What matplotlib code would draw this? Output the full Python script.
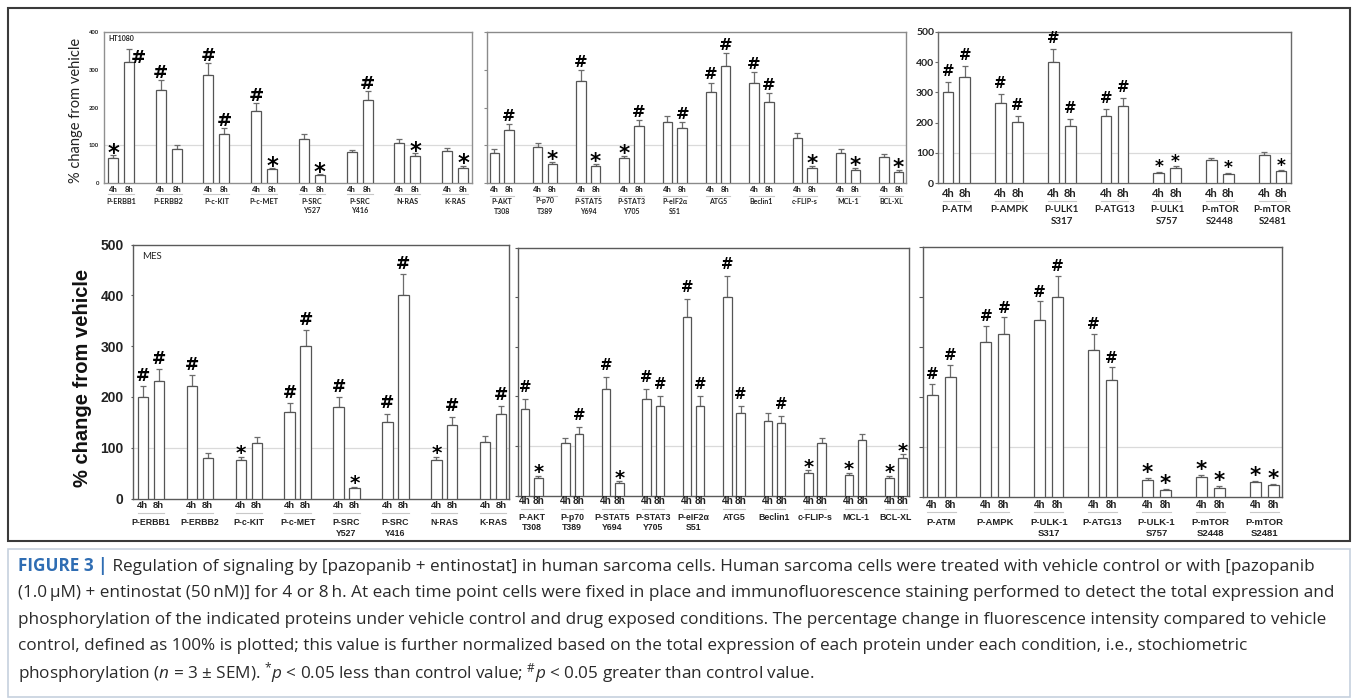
import numpy as np
import matplotlib
matplotlib.use("Agg")
import matplotlib.pyplot as plt
from matplotlib.transforms import blended_transform_factory
from matplotlib.patches import Rectangle
from matplotlib.textpath import TextPath
from matplotlib.font_manager import FontProperties
from matplotlib.text import Annotation

plt.rcParams['mathtext.fontset'] = 'custom'
plt.rcParams['mathtext.rm'] = 'Open Sans'
plt.rcParams['mathtext.it'] = 'Open Sans:italic'
plt.rcParams['mathtext.bf'] = 'Open Sans:bold'

# ------------------------------------------------------------------ data
# HT1080 (top row)
ht_kin_labels = ['P-ERBB1', 'P-ERBB2', 'P-c-KIT', 'P-c-MET', 'P-SRC\nY527', 'P-SRC\nY416', 'N-RAS', 'K-RAS']
ht_kin_4h = [66, 246, 286, 191, 116, 81, 105, 86]
ht_kin_4h_err = [8, 26, 31, 20, 13, 7, 12, 8]
ht_kin_8h = [321, 89, 131, 36, 20, 221, 71, 41]
ht_kin_8h_err = [34, 11, 15, 3, 3, 23, 8, 5]
ht_kin_4h_sig = ['*', '#', '#', '#', '', '', '', '']
ht_kin_8h_sig = ['#', '', '#', '*', '*', '#', '*', '*']

ht_sig_labels = ['P-AKT\nT308', 'P-p70\nT389', 'P-STAT5\nY694', 'P-STAT3\nY705', 'P-eIF2α\nS51',
                 'ATG5', 'Beclin1', 'c-FLIP-s', 'MCL-1', 'BCL-XL']
ht_sig_4h = [80, 95, 270, 65, 161, 240, 265, 120, 79, 70]
ht_sig_4h_err = [9, 11, 29, 7, 16, 26, 29, 12, 10, 8]
ht_sig_8h = [140, 50, 46, 150, 146, 310, 215, 40, 35, 30]
ht_sig_8h_err = [15, 6, 4, 16, 15, 34, 23, 5, 4, 4]
ht_sig_4h_sig = ['', '', '#', '*', '', '#', '#', '', '', '']
ht_sig_8h_sig = ['#', '*', '*', '#', '#', '#', '#', '*', '*', '*']

ht_aut_labels = ['P-ATM', 'P-AMPK', 'P-ULK1\nS317', 'P-ATG13', 'P-ULK1\nS757', 'P-mTOR\nS2448', 'P-mTOR\nS2481']
ht_aut_4h = [300, 266, 401, 221, 34, 76, 94]
ht_aut_4h_err = [33, 28, 41, 23, 3, 6, 9]
ht_aut_8h = [350, 201, 189, 255, 49, 31, 40]
ht_aut_8h_err = [37, 20, 22, 27, 7, 3, 3]
ht_aut_4h_sig = ['#', '#', '#', '#', '*', '', '']
ht_aut_8h_sig = ['#', '#', '#', '#', '*', '*', '*']

# MES (bottom row)
mes_kin_labels = ['P-ERBB1', 'P-ERBB2', 'P-c-KIT', 'P-c-MET', 'P-SRC\nY527', 'P-SRC\nY416', 'N-RAS', 'K-RAS']
mes_kin_4h = [200, 221, 76, 171, 180, 150, 76, 111]
mes_kin_4h_err = [21, 22, 6, 17, 19, 17, 6, 12]
mes_kin_8h = [231, 80, 110, 300, 20, 400, 145, 166]
mes_kin_8h_err = [24, 9, 12, 32, 3, 42, 16, 17]
mes_kin_4h_sig = ['#', '#', '*', '#', '#', '#', '*', '']
mes_kin_8h_sig = ['#', '', '', '#', '*', '#', '#', '#']

mes_sig_labels = ['P-AKT\nT308', 'P-p70\nT389', 'P-STAT5\nY694', 'P-STAT3\nY705', 'P-eIF2α\nS51',
                  'ATG5', 'Beclin1', 'c-FLIP-s', 'MCL-1', 'BCL-XL']
mes_sig_4h = [175, 105, 215, 195, 360, 400, 150, 45, 41, 35]
mes_sig_4h_err = [19, 11, 23, 20, 37, 42, 16, 6, 5, 5]
mes_sig_8h = [35, 125, 26, 180, 180, 166, 146, 105, 111, 75]
mes_sig_8h_err = [5, 13, 3, 20, 20, 14, 14, 11, 12, 8]
mes_sig_4h_sig = ['#', '', '#', '#', '#', '#', '', '*', '*', '*']
mes_sig_8h_sig = ['*', '#', '*', '#', '#', '#', '#', '', '', '*']

mes_aut_labels = ['P-ATM', 'P-AMPK', 'P-ULK-1\nS317', 'P-ATG13', 'P-ULK-1\nS757', 'P-mTOR\nS2448', 'P-mTOR\nS2481']
mes_aut_4h = [205, 310, 355, 295, 35, 40, 30]
mes_aut_4h_err = [22, 33, 37, 32, 3, 4, 3]
mes_aut_8h = [240, 326, 400, 235, 15, 19, 25]
mes_aut_8h_err = [25, 34, 43, 25, 2, 3, 2]
mes_aut_4h_sig = ['#', '#', '#', '#', '*', '*', '*']
mes_aut_8h_sig = ['#', '#', '#', '#', '*', '*', '*']

time_labels = ['4h', '8h']
y_label = '% change from vehicle'

caption_head = 'FIGURE 3 |'
caption_lines = [
    ' Regulation of signaling by [pazopanib + entinostat] in human sarcoma cells. Human sarcoma cells were treated with vehicle control or with [pazopanib',
    '(1.0\u2009μM) + entinostat (50\u2009nM)] for 4 or 8\u2009h. At each time point cells were fixed in place and immunofluorescence staining performed to detect the total expression and',
    'phosphorylation of the indicated proteins under vehicle control and drug exposed conditions. The percentage change in fluorescence intensity compared to vehicle',
    'control, defined as 100% is plotted; this value is further normalized based on the total expression of each protein under each condition, i.e., stochiometric',
    r'phosphorylation ($n$ = 3 ± SEM). ${}^{*}p$ < 0.05 less than control value; ${}^{\#}p$ < 0.05 greater than control value.',
]

# ------------------------------------------------------------------ figure
W, H = 1357, 700
fig = plt.figure(figsize=(W / 100, H / 100), dpi=100)


def fx(x):
    return x / W


def fy(y):
    return 1 - y / H


MARK_FONT = FontProperties(family='DejaVu Sans', weight='bold')


def ink(s):
    e = TextPath((0, 0), s, size=1, prop=MARK_FONT).get_extents()
    return e.y0, e.y1


INK = {'#': ink('#'), '*': ink('*')}


def put_mark(ax, x, ytop, sym, cfg, dx=0.0, gap=None):
    i0, i1 = INK[sym]
    h_px = cfg['hash_h'] if sym == '#' else cfg['star_h']
    if gap is None:
        gap = cfg['hash_gap'] if sym == '#' else cfg['star_gap']
    em_px = h_px / (i1 - i0)
    ax.annotate(sym, (x, ytop), xytext=(dx, gap - i0 * em_px), textcoords='offset pixels',
                ha='center', va='baseline', fontsize=em_px * 0.72, fontweight='bold',
                family='DejaVu Sans', color='black', annotation_clip=False, zorder=5)


def panel(cfg, labels, v4, e4, v8, e8, s4, s8):
    x0, y0, x1, y1 = cfg['box']
    ax = fig.add_axes([fx(x0), fy(y1), fx(x1 - x0), (y1 - y0) / H])
    n = len(labels)
    idx = np.arange(n)
    ax.set_xlim(*cfg['xlim'])
    ax.set_ylim(0, cfg['ymax'])
    ax.axhline(100, color=cfg['ref_c'], lw=0.9, zorder=1)
    d, bw = cfg['off'], cfg['bw']
    series = [(idx - d, v4, e4, s4), (idx + d, v8, e8, s8)]
    for k, (xs, v, e, s) in enumerate(series):
        ax.bar(xs, v, width=bw, color='white', edgecolor=cfg['bar_ec'], linewidth=cfg['bar_lw'], zorder=3)
        ax.errorbar(xs, v, yerr=[np.zeros(n), e], fmt='none', ecolor=cfg['err_c'],
                    elinewidth=cfg['err_lw'], capsize=cfg['cap'], capthick=cfg['err_lw'], zorder=2)
        for i in range(n):
            if s[i]:
                if (i, k) in cfg.get('side', {}):
                    dx, gp = cfg['side'][(i, k)]
                    put_mark(ax, xs[i], v[i] + e[i], s[i], cfg, dx=dx, gap=gp)
                else:
                    put_mark(ax, xs[i], v[i] + e[i], s[i], cfg)
    for sp in ax.spines.values():
        sp.set_color(cfg['spine_c'])
        sp.set_linewidth(cfg['spine_lw'])
    ax.set_xticks([])
    ax.set_yticks(cfg['yticks'])
    ax.tick_params(axis='y', length=cfg['tick_len'], width=0.8, color=cfg['spine_c'],
                   direction='out', pad=cfg['tick_pad'])
    if cfg['ytl']:
        ax.set_yticklabels([str(t) for t in cfg['yticks']], fontsize=cfg['ytl_fs'],
                           family=cfg['ytl_family'], fontweight='bold', color='#222222')
    else:
        ax.set_yticklabels([])
    tr = blended_transform_factory(ax.transData, fig.transFigure)
    tkw = dict(transform=tr, ha='center', va='baseline', fontweight='bold',
               family=cfg['family'], color='#222222', clip_on=False)
    for i, lab in enumerate(labels):
        ax.text(i - d, fy(cfg['t_y']), time_labels[0], fontsize=cfg['t_fs'], **tkw)
        ax.text(i + d, fy(cfg['t_y']), time_labels[1], fontsize=cfg['t_fs'], **tkw)
        ax.plot([i - d - bw / 2, i + d + bw / 2], [fy(cfg['ul_y'])] * 2, transform=tr,
                color='#c8c8c8', lw=0.8, clip_on=False)
        for j, line in enumerate(lab.split('\n')):
            ax.text(i, fy(cfg['lab_y'][j]), line, fontsize=cfg['lab_fs'], **tkw)
    return ax


base = dict(ref_c='#dadada', bar_lw=0.9, err_lw=0.9, cap=2.2, bar_ec='#555555', err_c='#6c6c6c',
            spine_lw=1.0)

cfg_tl = dict(base, box=(104, 32, 472, 183), xlim=(-0.356, 7.356), ymax=400, off=0.167, bw=0.21,
              yticks=[0, 100, 200, 300, 400], ytl=True, ytl_fs=4.2, ytl_family=['Lato', 'DejaVu Sans'],
              tick_len=0, tick_pad=3.4, spine_c='#909090', hash_h=13, hash_gap=2, star_h=10.5,
              star_gap=1.5, t_y=191.5, t_fs=5.5, ul_y=194.5, lab_y=[204, 213], lab_fs=5.2,
              family=['Lato', 'DejaVu Sans'], side={(0, 1): (9, -14.2)})
cfg_tm = dict(base, box=(487, 32, 906, 183), xlim=(-0.34, 9.34), ymax=400, off=0.17, bw=0.22,
              yticks=[0, 100, 200, 300, 400], ytl=False, tick_len=2.2, tick_pad=1, spine_c='#8a8a8a',
              hash_h=11.7, hash_gap=3.3, star_h=10, star_gap=2, t_y=191.5, t_fs=5.5, ul_y=196,
              lab_y=[203.5, 214], lab_fs=5.0, family=['Lato', 'DejaVu Sans'])
cfg_tr = dict(base, box=(938, 31.7, 1291, 183.3), xlim=(-0.35, 6.35), ymax=500, off=0.16, bw=0.205,
              yticks=[0, 100, 200, 300, 400, 500], ytl=True, ytl_fs=7.5, ytl_family=['Lato', 'DejaVu Sans'],
              tick_len=2, tick_pad=0.8, spine_c='#6a6a6a', hash_h=10.7, hash_gap=6, star_h=8,
              star_gap=4.5, t_y=197, t_fs=8, ul_y=201.5, lab_y=[212.5, 223.5], lab_fs=7,
              family=['Lato', 'DejaVu Sans'])
cfg_bl = dict(base, box=(133.3, 244.7, 509.3, 498.5), xlim=(-0.358, 7.327), ymax=500, off=0.163, bw=0.21,
              yticks=[0, 100, 200, 300, 400, 500], ytl=True, ytl_fs=10, ytl_family=['Liberation Sans'],
              tick_len=1.5, tick_pad=5.5, spine_c='#5a5a5a', hash_h=12.3, hash_gap=5.3, star_h=9.3,
              star_gap=3.4, t_y=508, t_fs=6.8, ul_y=512.5, lab_y=[525, 536], lab_fs=6.3,
              family=['Liberation Sans', 'DejaVu Sans'])
cfg_bm = dict(base, box=(518.3, 247.5, 909.3, 495.5), xlim=(-0.33, 9.33), ymax=500, off=0.165, bw=0.21,
              yticks=[0, 100, 200, 300, 400, 500], ytl=False, tick_len=2.4, tick_pad=1,
              spine_c='#5a5a5a', hash_h=10.7, hash_gap=7, star_h=9, star_gap=2.7, t_y=504, t_fs=7.2,
              ul_y=509, lab_y=[519.5, 530.5], lab_fs=6.3, family=['Liberation Sans', 'DejaVu Sans'])
cfg_br = dict(base, box=(923.3, 247.3, 1282.3, 497.3), xlim=(-0.33, 6.335), ymax=500, off=0.167, bw=0.204,
              yticks=[0, 100, 200, 300, 400, 500], ytl=False, tick_len=2.9, tick_pad=1,
              spine_c='#5a5a5a', hash_h=11, hash_gap=4.5, star_h=10, star_gap=4.8, t_y=508, t_fs=7,
              ul_y=512, lab_y=[525, 536], lab_fs=6.8, family=['Liberation Sans', 'DejaVu Sans'])

panel(cfg_tl, ht_kin_labels, ht_kin_4h, ht_kin_4h_err, ht_kin_8h, ht_kin_8h_err, ht_kin_4h_sig, ht_kin_8h_sig)
panel(cfg_tm, ht_sig_labels, ht_sig_4h, ht_sig_4h_err, ht_sig_8h, ht_sig_8h_err, ht_sig_4h_sig, ht_sig_8h_sig)
panel(cfg_tr, ht_aut_labels, ht_aut_4h, ht_aut_4h_err, ht_aut_8h, ht_aut_8h_err, ht_aut_4h_sig, ht_aut_8h_sig)
panel(cfg_bl, mes_kin_labels, mes_kin_4h, mes_kin_4h_err, mes_kin_8h, mes_kin_8h_err, mes_kin_4h_sig, mes_kin_8h_sig)
panel(cfg_bm, mes_sig_labels, mes_sig_4h, mes_sig_4h_err, mes_sig_8h, mes_sig_8h_err, mes_sig_4h_sig, mes_sig_8h_sig)
panel(cfg_br, mes_aut_labels, mes_aut_4h, mes_aut_4h_err, mes_aut_8h, mes_aut_8h_err, mes_aut_4h_sig, mes_aut_8h_sig)

# cell-line tags and axis titles
fig.text(fx(108.7), fy(38.3), 'HT1080', fontsize=5, fontweight='bold', family='Lato',
         ha='left', va='center', color='#222222')
fig.text(fx(141.7), fy(256.7), 'MES', fontsize=7, family='Lato', ha='left', va='center', color='#222222')
fig.text(fx(76), fy(110), y_label, rotation=90, fontsize=10.5, family='Lato',
         ha='center', va='center', color='#222222')
fig.text(fx(82), fy(378), y_label, rotation=90, fontsize=14.5, fontweight='bold',
         family='Liberation Sans', ha='center', va='center', color='#111111')

# outer frame and caption box
fig.add_artist(Rectangle((fx(8), fy(541)), fx(1342), (541 - 8) / H, transform=fig.transFigure,
                         fill=False, ec='#3a3a3a', lw=1.5))
fig.add_artist(Rectangle((fx(8), fy(697)), fx(1342), (697 - 549) / H, transform=fig.transFigure,
                         fill=False, ec='#c6d1de', lw=1.2))

# caption
cap_fs = 12.3
cap_y = [566, 592.75, 619.5, 646.25, 673]
ckw = dict(fontsize=cap_fs, family=['Open Sans', 'DejaVu Sans'], color='#2a2a2a')
t1 = fig.text(fx(18), fy(cap_y[0]), caption_head, fontweight='bold', color='#2f6db3',
              ha='left', va='center', fontsize=cap_fs, family=['Open Sans', 'DejaVu Sans'])
fig.add_artist(Annotation(caption_lines[0], xy=(1, 0), xycoords=t1, ha='left', va='bottom', **ckw))
for k in range(1, 5):
    fig.text(fx(18), fy(cap_y[k]), caption_lines[k], ha='left', va='center', **ckw)

fig.savefig('out.png', dpi=100)
